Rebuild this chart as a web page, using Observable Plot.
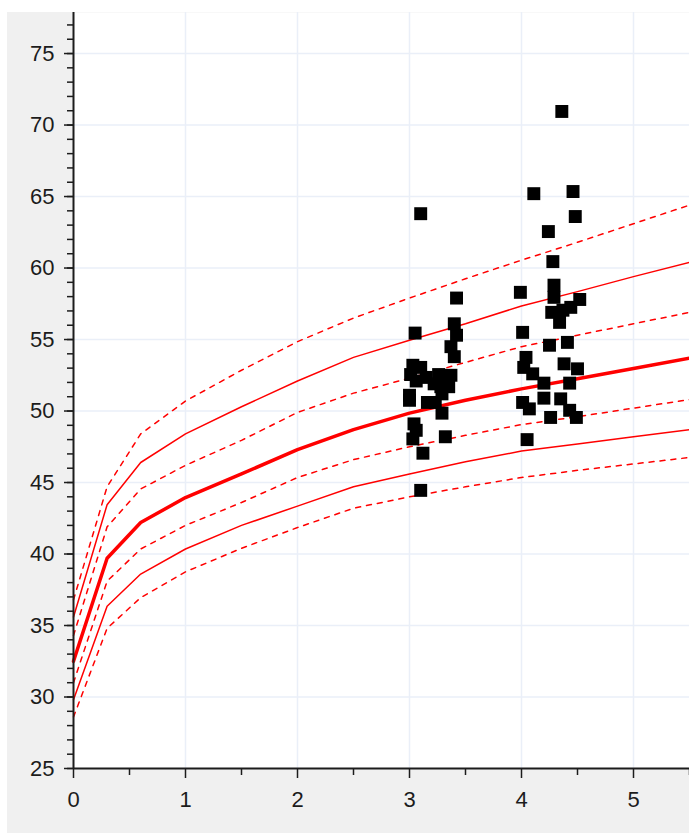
<!DOCTYPE html>
<html>
<head>
<meta charset="utf-8">
<script src="https://cdn.jsdelivr.net/npm/d3@7"></script>
<script src="https://cdn.jsdelivr.net/npm/@observablehq/plot@0.6"></script>
<style>
  html, body { margin: 0; padding: 0; background: #ffffff; }
  #panel { position: absolute; left: 7px; top: 12px; width: 682px; height: 821px; background: #f0f0f0; }
  #chart { position: absolute; left: 0; top: 0; }
  #chart svg text { font-size: 22px !important; font-family: "Liberation Sans", Arial, sans-serif; }
</style>
</head>
<body>
<div id="panel"></div>
<div id="chart"></div>
<script>
// Reference curves: age (years) against measurement, one array per centile line
const ages = [0, 0.3, 0.6, 1, 1.5, 2, 2.5, 3, 3.5, 4, 4.5, 5, 5.5];
const p3  = [28.6, 34.8, 36.95, 38.75, 40.4, 41.85, 43.2, 44.0, 44.7, 45.35, 45.85, 46.3, 46.75];
const p10 = [29.8, 36.35, 38.6, 40.35, 42.0, 43.35, 44.7, 45.6, 46.45, 47.2, 47.7, 48.2, 48.7];
const p25 = [31.0, 38.1, 40.35, 42.0, 43.6, 45.35, 46.6, 47.5, 48.3, 49.05, 49.6, 50.2, 50.8];
const p50 = [32.5, 39.7, 42.2, 43.95, 45.6, 47.3, 48.7, 49.85, 50.75, 51.55, 52.25, 52.97, 53.7];
const p75 = [34.3, 41.9, 44.55, 46.2, 47.95, 49.9, 51.25, 52.3, 53.4, 54.5, 55.3, 56.1, 56.9];
const p90 = [35.6, 43.45, 46.4, 48.4, 50.3, 52.1, 53.75, 54.95, 56.1, 57.35, 58.35, 59.4, 60.4];
const p97 = [36.8, 44.7, 48.4, 50.7, 52.85, 54.85, 56.5, 57.9, 59.25, 60.55, 61.8, 63.1, 64.4];

// Observed measurements
const obsAge = [
  3.10, 3.05, 3.42, 3.40, 3.42, 3.37, 3.40,
  3.03, 3.10, 3.01, 3.06, 3.15, 3.26, 3.37, 3.35, 3.28, 3.22, 3.16, 3.23, 3.29, 3.29, 3.00, 3.00,
  3.04, 3.06, 3.03, 3.32, 3.12, 3.10,
  4.36, 4.11, 4.46, 4.48, 4.24, 4.28, 3.99, 4.29, 4.29, 4.52, 4.44, 4.27, 4.37, 4.34, 4.01, 4.25,
  4.41, 4.04, 4.02, 4.10, 4.20, 4.38, 4.50, 4.43, 4.01, 4.07, 4.20, 4.35, 4.26, 4.43, 4.49, 4.05
];
const obsValue = [
  63.8, 55.45, 57.9, 56.1, 55.3, 54.5, 53.8,
  53.2, 53.05, 52.55, 52.1, 52.35, 52.55, 52.5, 51.7, 51.7, 51.9, 50.6, 50.6, 51.2, 49.85, 50.75, 51.1,
  49.1, 48.65, 48.05, 48.2, 47.05, 44.45,
  70.95, 65.2, 65.35, 63.6, 62.55, 60.45, 58.3, 58.8, 57.95, 57.8, 57.25, 56.9, 57.05, 56.2, 55.5, 54.6,
  54.8, 53.75, 53.05, 52.6, 51.95, 53.3, 52.95, 51.95, 50.6, 50.15, 50.9, 50.85, 49.55, 50.05, 49.55, 48.0
];

const yMajor = [25, 30, 35, 40, 45, 50, 55, 60, 65, 70, 75];
const yMinor = d3.range(25, 78, 1);
const xMajor = [0, 1, 2, 3, 4, 5];
const xMinor = [0.5, 1.5, 2.5, 3.5, 4.5, 5.5];

const curves = [
  {name: "P3",  values: p3,  width: 1.5, dash: "5,6"},
  {name: "P10", values: p10, width: 1.5, dash: null},
  {name: "P25", values: p25, width: 1.5, dash: "5,6"},
  {name: "P50", values: p50, width: 3.5, dash: null},
  {name: "P75", values: p75, width: 1.5, dash: "5,6"},
  {name: "P90", values: p90, width: 1.5, dash: null},
  {name: "P97", values: p97, width: 1.5, dash: "5,6"}
];
const observations = obsAge.map((a, i) => ({age: a, value: obsValue[i]}));

const gridColor = "#eaeff8";
const inkColor = "#1c1c1c";
const blank = () => "";

const chart = Plot.plot({
  width: 689,
  height: 835,
  marginLeft: 73,
  marginTop: 12,
  marginRight: 0,
  marginBottom: 67,
  x: {domain: [0, 5.5], label: null},
  y: {domain: [25, 77.87], label: null},
  style: {background: "transparent", fontFamily: "'Liberation Sans', Arial, sans-serif", fontSize: "22px", color: inkColor},
  marks: [
    Plot.frame({fill: "white", stroke: null}),
    Plot.gridX([1, 2, 3, 4, 5], {stroke: gridColor, strokeOpacity: 1, strokeWidth: 1.5}),
    Plot.gridY(yMajor.slice(1), {stroke: gridColor, strokeOpacity: 1, strokeWidth: 1.5}),
    ...curves.map(c => Plot.line(ages.map((a, i) => ({age: a, value: c.values[i]})), {
      x: "age", y: "value", stroke: "#ff0000", strokeWidth: c.width,
      strokeDasharray: c.dash, strokeLinejoin: "round"
    })),
    Plot.dot(observations, {x: "age", y: "value", symbol: "square", r: 7.3, fill: "black", stroke: null}),
    Plot.ruleX([0], {stroke: inkColor, strokeWidth: 2}),
    Plot.ruleY([25], {stroke: inkColor, strokeWidth: 2}),
    Plot.axisY(yMinor, {anchor: "left", label: null, tickSize: 6, tickFormat: blank, stroke: inkColor, strokeWidth: 1.5}),
    Plot.axisY(yMajor, {anchor: "left", label: null, tickSize: 9, tickPadding: 10, fontSize: 22, stroke: inkColor, strokeWidth: 1.5, fill: inkColor}),
    Plot.axisX(xMinor, {anchor: "bottom", label: null, tickSize: 7, tickFormat: blank, stroke: inkColor, strokeWidth: 1.5}),
    Plot.axisX(xMajor, {anchor: "bottom", label: null, tickSize: 10, tickPadding: 13, fontSize: 22, stroke: inkColor, strokeWidth: 1.5, fill: inkColor})
  ]
});
document.getElementById("chart").appendChild(chart);
</script>
</body>
</html>
